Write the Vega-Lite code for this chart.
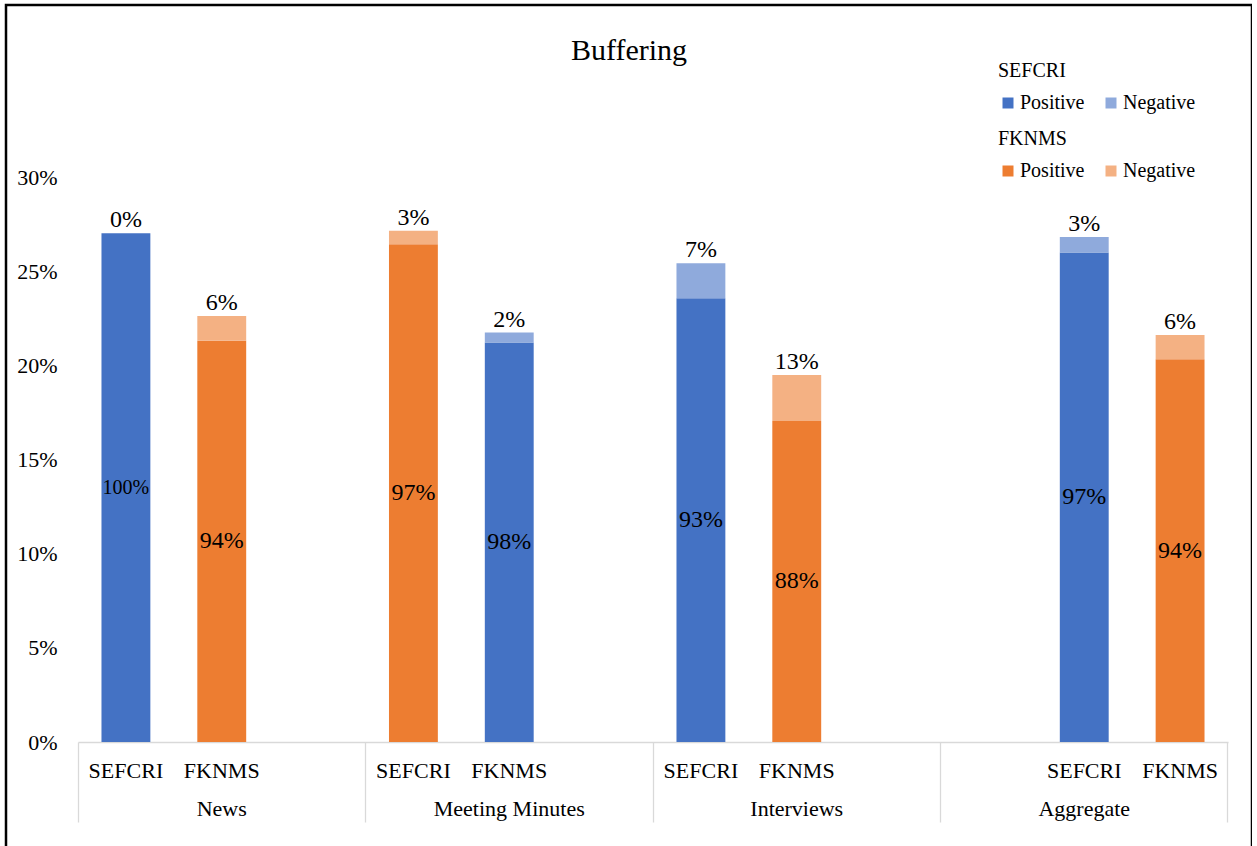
{
  "$schema": "https://vega.github.io/schema/vega-lite/v6.json",
  "autosize": {"type": "none"},
  "padding": {"left": 6, "top": 5, "right": 0, "bottom": 0},
  "width": 1246,
  "height": 850,
  "background": "white",
  "title": {
    "text": "Buffering",
    "font": "Liberation Serif",
    "fontSize": 30,
    "fontWeight": "normal",
    "color": "black",
    "anchor": "middle",
    "frame": "group",
    "offset": -61
  },
  "data": {
    "values": [
      {"slot": "News SEFCRI", "group": "News", "org": "SEFCRI", "series": "SEFCRI", "part": "Positive", "value": 0.2701, "share": 1.00},
      {"slot": "News SEFCRI", "group": "News", "org": "SEFCRI", "series": "SEFCRI", "part": "Negative", "value": 0.0000, "share": 0.00},
      {"slot": "News FKNMS", "group": "News", "org": "FKNMS", "series": "FKNMS", "part": "Positive", "value": 0.2131, "share": 0.94},
      {"slot": "News FKNMS", "group": "News", "org": "FKNMS", "series": "FKNMS", "part": "Negative", "value": 0.0131, "share": 0.06},
      {"slot": "Meeting Minutes SEFCRI", "group": "Meeting Minutes", "org": "SEFCRI", "series": "FKNMS", "part": "Positive", "value": 0.2643, "share": 0.97},
      {"slot": "Meeting Minutes SEFCRI", "group": "Meeting Minutes", "org": "SEFCRI", "series": "FKNMS", "part": "Negative", "value": 0.0071, "share": 0.03},
      {"slot": "Meeting Minutes FKNMS", "group": "Meeting Minutes", "org": "FKNMS", "series": "SEFCRI", "part": "Positive", "value": 0.2121, "share": 0.98},
      {"slot": "Meeting Minutes FKNMS", "group": "Meeting Minutes", "org": "FKNMS", "series": "SEFCRI", "part": "Negative", "value": 0.0053, "share": 0.02},
      {"slot": "Interviews SEFCRI", "group": "Interviews", "org": "SEFCRI", "series": "SEFCRI", "part": "Positive", "value": 0.2356, "share": 0.93},
      {"slot": "Interviews SEFCRI", "group": "Interviews", "org": "SEFCRI", "series": "SEFCRI", "part": "Negative", "value": 0.0186, "share": 0.07},
      {"slot": "Interviews FKNMS", "group": "Interviews", "org": "FKNMS", "series": "FKNMS", "part": "Positive", "value": 0.1705, "share": 0.88},
      {"slot": "Interviews FKNMS", "group": "Interviews", "org": "FKNMS", "series": "FKNMS", "part": "Negative", "value": 0.0244, "share": 0.13},
      {"slot": "Aggregate SEFCRI", "group": "Aggregate", "org": "SEFCRI", "series": "SEFCRI", "part": "Positive", "value": 0.2599, "share": 0.97},
      {"slot": "Aggregate SEFCRI", "group": "Aggregate", "org": "SEFCRI", "series": "SEFCRI", "part": "Negative", "value": 0.0083, "share": 0.03},
      {"slot": "Aggregate FKNMS", "group": "Aggregate", "org": "FKNMS", "series": "FKNMS", "part": "Positive", "value": 0.2032, "share": 0.94},
      {"slot": "Aggregate FKNMS", "group": "Aggregate", "org": "FKNMS", "series": "FKNMS", "part": "Negative", "value": 0.0129, "share": 0.06}
    ]
  },
  "resolve": {"axis": {"x": "independent"}},
  "layer": [
    {
      "transform": [{"filter": "datum.series === 'SEFCRI'"}],
      "mark": {"type": "bar", "width": {"band": 0.51}},
      "encoding": {
        "x": {
          "field": "slot",
          "type": "nominal",
          "sort": null,
          "scale": {
            "domain": [
              "News SEFCRI", "News FKNMS", "News gap",
              "Meeting Minutes SEFCRI", "Meeting Minutes FKNMS", "Meeting Minutes gap",
              "Interviews SEFCRI", "Interviews FKNMS", "Interviews gap",
              "Aggregate gap", "Aggregate SEFCRI", "Aggregate FKNMS"
            ],
            "range": [72, 1222],
            "paddingInner": 0,
            "paddingOuter": 0
          },
          "axis": {
            "orient": "bottom",
            "offset": -113,
            "title": null,
            "values": [
              "News SEFCRI", "News FKNMS",
              "Meeting Minutes SEFCRI", "Meeting Minutes FKNMS",
              "Interviews SEFCRI", "Interviews FKNMS",
              "Aggregate SEFCRI", "Aggregate FKNMS"
            ],
            "labelExpr": "slice(datum.label, lastindexof(datum.label, ' ') + 1)",
            "labelAngle": 0,
            "labelPadding": 18,
            "ticks": false,
            "domain": true,
            "domainColor": "#d9d9d9",
            "domainWidth": 1.3
          }
        },
        "y": {
          "field": "value",
          "type": "quantitative",
          "stack": "zero",
          "scale": {"domain": [0, 0.3], "range": [737, 172], "nice": false},
          "axis": {
            "orient": "left",
            "offset": -72,
            "title": null,
            "values": [0, 0.05, 0.1, 0.15, 0.2, 0.25, 0.3],
            "format": ".0%",
            "domain": false,
            "ticks": false,
            "labelPadding": 21
          }
        },
        "order": {"field": "part", "sort": "descending"},
        "color": {
          "field": "part",
          "type": "nominal",
          "scale": {"domain": ["Positive", "Negative"], "range": ["#4472C4", "#8FAADC"]},
          "legend": {"title": "SEFCRI", "orient": "none", "legendX": 992, "legendY": 56}
        }
      }
    },
    {
      "transform": [{"filter": "datum.series === 'FKNMS'"}],
      "mark": {"type": "bar", "width": {"band": 0.51}},
      "encoding": {
        "x": {
          "field": "slot",
          "type": "nominal",
          "sort": null,
          "axis": {
            "orient": "bottom",
            "offset": -113,
            "title": null,
            "values": ["News FKNMS", "Meeting Minutes FKNMS", "Interviews FKNMS", "Aggregate SEFCRI"],
            "labelExpr": "slice(datum.label, 0, lastindexof(datum.label, ' '))",
            "labelAngle": 0,
            "labelPadding": 56,
            "ticks": false,
            "domain": false
          }
        },
        "y": {"field": "value", "type": "quantitative", "stack": "zero"},
        "order": {"field": "part", "sort": "descending"},
        "fill": {
          "field": "part",
          "type": "nominal",
          "scale": {"domain": ["Negative", "Positive"], "range": ["#F4B183", "#ED7D31"]},
          "legend": {"title": "FKNMS", "values": ["Positive", "Negative"], "orient": "none", "legendX": 992, "legendY": 124}
        }
      }
    },
    {
      "mark": {"type": "text", "baseline": "middle", "align": "center", "color": "black", "font": "Liberation Serif"},
      "encoding": {
        "x": {
          "field": "slot",
          "type": "nominal",
          "sort": null,
          "axis": {
            "orient": "bottom",
            "offset": -113,
            "title": null,
            "values": ["News SEFCRI", "Meeting Minutes SEFCRI", "Interviews SEFCRI", "Aggregate gap"],
            "bandPosition": 0,
            "labels": false,
            "domain": false,
            "ticks": true,
            "tickSize": 80,
            "tickColor": "#d9d9d9",
            "tickWidth": 1.3
          }
        },
        "y": {"field": "value", "type": "quantitative", "stack": "zero", "bandPosition": 0.5},
        "detail": {"field": "part"},
        "order": {"field": "part", "sort": "descending"},
        "text": {
          "condition": {"test": "datum.part === 'Negative'", "value": ""},
          "field": "share",
          "type": "quantitative",
          "format": ".0%"
        },
        "size": {"condition": {"test": "datum.share === 1", "value": 20}, "value": 24}
      }
    },
    {
      "mark": {"type": "text", "baseline": "alphabetic", "align": "center", "dy": -6, "color": "black", "font": "Liberation Serif", "fontSize": 24},
      "encoding": {
        "x": {
          "field": "slot",
          "type": "nominal",
          "sort": null,
          "axis": {
            "orient": "bottom",
            "offset": -113,
            "title": null,
            "values": ["Aggregate FKNMS"],
            "bandPosition": 1,
            "labels": false,
            "domain": false,
            "ticks": true,
            "tickSize": 80,
            "tickColor": "#d9d9d9",
            "tickWidth": 1.3
          }
        },
        "y": {"field": "value", "type": "quantitative", "stack": "zero"},
        "detail": {"field": "part"},
        "order": {"field": "part", "sort": "descending"},
        "text": {
          "condition": {"test": "datum.part === 'Positive'", "value": ""},
          "field": "share",
          "type": "quantitative",
          "format": ".0%"
        }
      }
    }
  ],
  "config": {
    "font": "Liberation Serif",
    "view": {"stroke": "black", "strokeWidth": 2.5},
    "axis": {
      "labelFont": "Liberation Serif",
      "labelFontSize": 22,
      "labelColor": "black",
      "grid": false
    },
    "legend": {
      "direction": "horizontal",
      "columns": 2,
      "columnPadding": 16,
      "labelFont": "Liberation Serif",
      "labelFontSize": 20,
      "labelColor": "black",
      "labelOffset": 2,
      "titleFont": "Liberation Serif",
      "titleFontSize": 20,
      "titleFontWeight": "normal",
      "titleColor": "black",
      "titlePadding": 12,
      "symbolType": "square",
      "symbolSize": 121,
      "symbolStrokeWidth": 0,
      "padding": 0
    }
  }
}
